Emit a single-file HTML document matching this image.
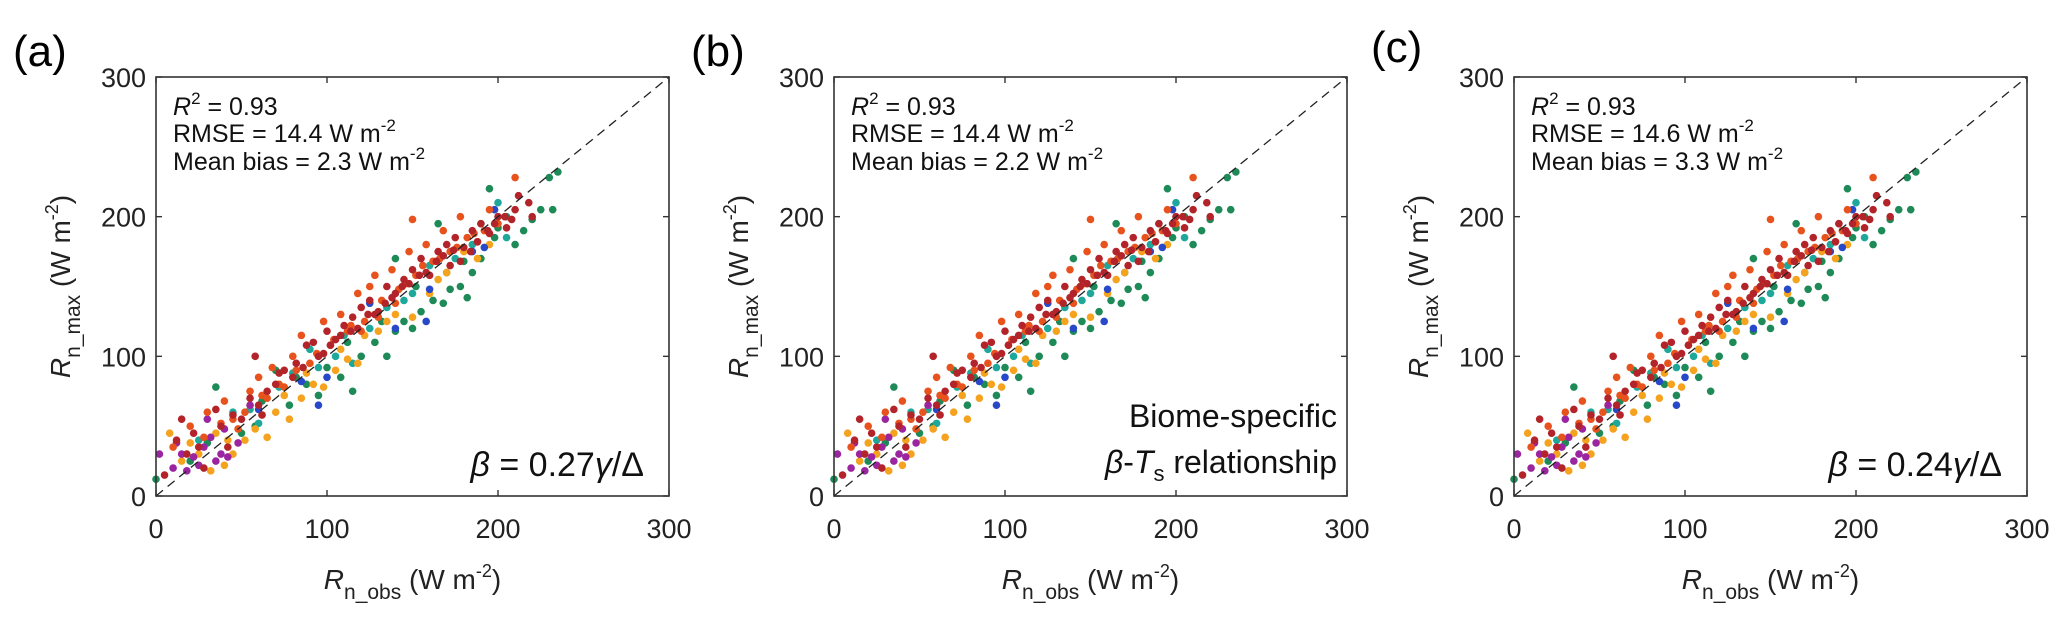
<!DOCTYPE html>
<html><head><meta charset="utf-8"><style>
html,body{margin:0;padding:0;background:#fff;}
svg{display:block;font-family:"Liberation Sans",Arial,sans-serif;}
</style></head><body>
<svg id="fig" width="2067" height="621" viewBox="0 0 2067 621"></svg>
<script>
const ticks=[0,100,200,300];
const tickLabels=["0","100","200","300"];
const panelLabels=["(a)","(b)","(c)"];
const r2Values=["0.93","0.93","0.93"];
const rmseValues=["14.4","14.4","14.6"];
const biasValues=["2.3","2.2","3.3"];
const redX=[5,12,15,18,22,28,35,38,42,50,55,58,62,70,75,82,88,92,95,100,105,110,115,120,125,130,135,140,145,150,155,160,165,170,172,175,180,185,190,195,200,205,210,212,220,25,45,65,80,98,108,118,128,138,148,158,168,178,188,198,208,218,60,72,86,102,114,124,134,144,154,164,174,184,194,204];
const redY=[15,40,55,30,45,20,62,50,35,55,70,100,58,80,90,95,108,110,100,118,112,122,128,135,140,132,150,145,155,162,170,158,175,180,165,185,178,190,195,188,200,192,205,215,200,35,58,75,85,102,115,120,130,142,152,160,172,168,182,195,198,210,65,88,92,108,118,130,138,150,158,168,176,175,190,200];
const orX=[10,20,30,40,48,55,60,68,75,80,85,90,98,102,108,112,118,122,128,132,138,142,148,152,158,162,168,172,178,182,188,195,200,210,45,65,125,150,28,38,52,62,72,82,94,104,114,120,130,140,146,156,166,176,186,192];
const orY=[35,50,60,68,48,75,85,92,78,100,115,95,125,108,130,118,145,125,158,140,162,148,175,158,180,168,190,175,200,185,182,205,195,228,55,70,150,198,42,52,60,72,80,90,102,112,122,118,128,138,152,165,170,178,188,190];
const yeX=[8,15,25,32,40,45,52,58,65,70,78,85,92,98,105,112,118,122,130,140,150,160,170,180,188,195,55,35,20,42,62,75,88,108,135,165];
const yeY=[45,25,30,18,22,30,40,48,42,60,55,70,80,78,90,98,95,115,118,130,128,145,160,175,170,180,65,45,38,40,58,72,88,105,125,155];
const grX=[0,20,35,50,62,70,78,88,95,100,108,115,120,128,135,140,145,150,155,162,168,172,178,182,185,190,195,198,205,210,215,225,232,235,230,165,140,30,58,82,112,132,152,170,180,200,220];
const grY=[12,25,78,45,68,90,65,80,72,92,85,75,100,110,100,118,125,120,132,140,138,148,150,142,160,170,220,185,200,180,190,205,205,232,228,195,170,38,50,85,110,125,150,160,168,192,198];
const teX=[25,45,60,72,80,90,105,115,125,135,145,160,175,190,200,205,110,55,95,150,185];
const teY=[40,60,52,78,88,105,100,95,120,135,140,165,170,195,210,185,115,62,92,145,180];
const puX=[2,10,15,18,22,28,32,35,38,40,42,30,55,48,25,12];
const puY=[30,20,30,18,28,35,42,25,30,48,28,55,65,38,22,38];
const blX=[60,85,100,95,125,140,158,185,192,160,198];
const blY=[62,82,85,65,138,120,125,175,178,148,205];
const series=[
 {name:'green',x:grX,y:grY,c:'#1e8a58'},
 {name:'teal',x:teX,y:teY,c:'#1da89b'},
 {name:'orange',x:yeX,y:yeY,c:'#f5a31f'},
 {name:'purple',x:puX,y:puY,c:'#9b25a0'},
 {name:'blue',x:blX,y:blY,c:'#2748c8'},
 {name:'orange-red',x:orX,y:orY,c:'#e8521c'},
 {name:'dark-red',x:redX,y:redY,c:'#b3242a'}
];
const NS='http://www.w3.org/2000/svg';
const svg=document.getElementById('fig');
function mk(tag,attrs,parent){const e=document.createElementNS(NS,tag);for(const k in attrs)e.setAttribute(k,attrs[k]);(parent||svg).appendChild(e);return e;}
const lefts=[156,834,1514];
const W=513,top0=77,H=419;
panelLabels.forEach((pl,i)=>{
  const L=lefts[i];
  const sx=v=>L+v/300*W, sy=v=>top0+H-v/300*H;
  const g=mk('g',{});
  
  
  const lab=mk('text',{x:L-143,y:i==2?62:66,'font-size':44},g);
  lab.textContent=pl;
  
  
  series.forEach(s=>{
    s.x.forEach((xv,j)=>{
      const c=mk('circle',{cx:sx(xv),cy:sy(s.y[j]),r:3.8,fill:s.c},g);
      
      
    });
  });
  const dl=mk('line',{x1:sx(0),y1:sy(0),x2:sx(300),y2:sy(300),stroke:'#222','stroke-width':1.3,'stroke-dasharray':'9,6'},g);
  
  
  const box=mk('rect',{x:L,y:top0,width:W,height:H,fill:'none',stroke:'#333','stroke-width':1.6},g);
  
  
  ticks.forEach((t,k)=>{
    mk('line',{x1:sx(t),y1:top0+H,x2:sx(t),y2:top0+H-6,stroke:'#333','stroke-width':1.4},g);
    mk('line',{x1:sx(t),y1:top0,x2:sx(t),y2:top0+6,stroke:'#333','stroke-width':1.4},g);
    mk('line',{x1:L,y1:sy(t),x2:L+6,y2:sy(t),stroke:'#333','stroke-width':1.4},g);
    mk('line',{x1:L+W,y1:sy(t),x2:L+W-6,y2:sy(t),stroke:'#333','stroke-width':1.4},g);
    const xt=mk('text',{x:sx(t),y:538,'font-size':27,'text-anchor':'middle',fill:'#222'},g);
    xt.textContent=tickLabels[k];
    
    
    const yt=mk('text',{x:L-10,y:sy(t)+10,'font-size':27,'text-anchor':'end',fill:'#222'},g);
    yt.textContent=tickLabels[k];
    
    
  });
  const xl=mk('text',{x:L+W/2,y:589,'font-size':28,'text-anchor':'middle',fill:'#222'},g);
  xl.innerHTML='<tspan font-style="italic">R</tspan><tspan font-size="21" dy="10">n_obs</tspan><tspan dy="-10"> (W m</tspan><tspan font-size="18" dy="-12">-2</tspan><tspan dy="12">)</tspan>';
  
  
  const yl=mk('text',{x:0,y:0,'font-size':28,'text-anchor':'middle',fill:'#222',transform:`translate(${L-86},${top0+H/2}) rotate(-90)`},g);
  yl.innerHTML='<tspan font-style="italic">R</tspan><tspan font-size="21" dy="10">n_max</tspan><tspan dy="-10"> (W m</tspan><tspan font-size="18" dy="-12">-2</tspan><tspan dy="12">)</tspan>';
  
  
  const st=mk('text',{x:L+17,y:115,'font-size':25,fill:'#111'},g);
  st.innerHTML=`<tspan font-style="italic">R</tspan><tspan font-size="17" dy="-11">2</tspan><tspan dy="11"> = ${r2Values[i]}</tspan><tspan x="${L+17}" y="142">RMSE = ${rmseValues[i]} W m</tspan><tspan font-size="17" dy="-11">-2</tspan><tspan x="${L+17}" y="170">Mean bias = ${biasValues[i]} W m</tspan><tspan font-size="17" dy="-11">-2</tspan>`;
  
  
  if(i==1){
    const b=mk('text',{x:L+W-10,y:427,'font-size':32,'text-anchor':'end',fill:'#111'},g);
    b.innerHTML=`Biome-specific<tspan x="${L+W-10}" y="473" font-style="italic">β</tspan>-<tspan font-style="italic">T</tspan><tspan font-size="22" dy="8">s</tspan><tspan dy="-8"> relationship</tspan>`;
    
    
  } else {
    const b=mk('text',{x:L+W-25,y:476,'font-size':34,'text-anchor':'end',fill:'#111'},g);
    b.innerHTML=`<tspan font-style="italic">β</tspan> = ${i==0?'0.27':'0.24'}<tspan font-style="italic">γ</tspan>/Δ`;
    
    
  }
});
</script>
</body></html>
